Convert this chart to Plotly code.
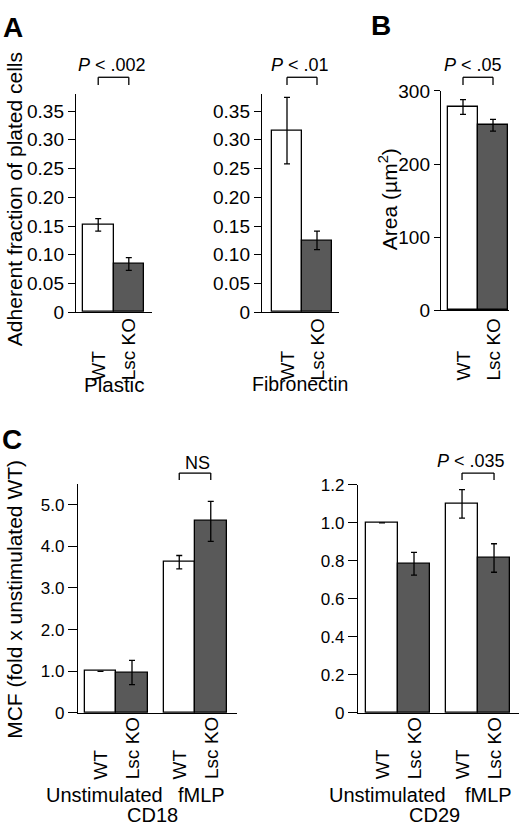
import plotly.graph_objects as go

# ---------------- data ----------------
conditions = ["WT", "Lsc KO"]
plastic_vals = [0.152, 0.084]
plastic_err = [0.011, 0.011]
fibro_vals = [0.316, 0.125]
fibro_err = [0.058, 0.016]
area_vals = [278, 253]
area_err = [10, 8]

c_conditions = ["WT", "Lsc KO", "WT", "Lsc KO"]
c_groups = ["Unstimulated", "fMLP"]
cd18_vals = [1.0, 0.97, 3.62, 4.60]
cd18_err = [0, 0.29, 0.16, 0.48]
cd29_vals = [1.0, 0.785, 1.10, 0.815]
cd29_err = [0, 0.06, 0.075, 0.075]

a_ticks = [0, 0.05, 0.10, 0.15, 0.20, 0.25, 0.30, 0.35]
a_ticktext = ["0", "0.05", "0.10", "0.15", "0.20", "0.25", "0.30", "0.35"]
b_ticks = [0, 100, 200, 300]
b_ticktext = ["0", "100", "200", "300"]
cd18_ticks = [0, 1, 2, 3, 4, 5]
cd18_ticktext = ["0", "1.0", "2.0", "3.0", "4.0", "5.0"]
cd29_ticks = [0, 0.2, 0.4, 0.6, 0.8, 1.0, 1.2]
cd29_ticktext = ["0", "0.2", "0.4", "0.6", "0.8", "1.0", "1.2"]

# ---------------- layout helpers ----------------
W, H = 520, 839
FONT = "Liberation Sans, Arial, Helvetica, sans-serif"
WT_COLOR = "white"
KO_COLOR = "#595959"


def fx(p):
    return p / W


def fy(p):
    return 1 - p / H


def positions(n):
    # two bars per group, groups separated by half a bar
    return [i + 0.5 * (i // 2) for i in range(n)]


fig = go.Figure()

panels = [
    dict(vals=plastic_vals, err=plastic_err, labels=conditions, ticks=a_ticks, tt=a_ticktext,
         xd=(76, 152), xr=(-0.726, 1.758), yd=(86, 310), yr=(0, 0.38), tf=19, tl=7, lab_bottom=382),
    dict(vals=fibro_vals, err=fibro_err, labels=conditions, ticks=a_ticks, tt=a_ticktext,
         xd=(262, 339), xr=(-0.833, 1.733), yd=(86, 310), yr=(0, 0.38), tf=19, tl=7, lab_bottom=382),
    dict(vals=area_vals, err=area_err, labels=conditions, ticks=b_ticks, tt=b_ticktext,
         xd=(441, 509), xr=(-0.733, 1.533), yd=(83, 308), yr=(0, 300), tf=19, tl=6, lab_bottom=382),
    dict(vals=cd18_vals, err=cd18_err, labels=c_conditions, ticks=cd18_ticks, tt=cd18_ticktext,
         xd=(78, 237), xr=(-0.714, 4.333), yd=(486, 721), yr=(0, 5.5), tf=17, tl=9, lab_bottom=791),
    dict(vals=cd29_vals, err=cd29_err, labels=c_conditions, ticks=cd29_ticks, tt=cd29_ticktext,
         xd=(358, 519), xr=(-0.75, 4.28), yd=(487, 721), yr=(0, 1.2), tf=17, tl=9, lab_bottom=791),
]

annotations = []
shapes = []
layout_axes = {}

for k, p in enumerate(panels, start=1):
    xa = "x" if k == 1 else f"x{k}"
    ya = "y" if k == 1 else f"y{k}"
    n = len(p["vals"])
    xs = positions(n)
    colors = [WT_COLOR if lab == "WT" else KO_COLOR for lab in p["labels"]]
    err_plot = [e if e else None for e in p["err"]]
    fig.add_trace(go.Bar(
        x=xs, y=p["vals"], width=[1] * n,
        marker=dict(color=colors, line=dict(color="black", width=1.3)),
        error_y=dict(type="data", array=err_plot, thickness=1.3, width=3, color="black"),
        xaxis=xa, yaxis=ya, showlegend=False, hoverinfo="skip",
    ))
    xkey = "xaxis" if k == 1 else f"xaxis{k}"
    ykey = "yaxis" if k == 1 else f"yaxis{k}"
    layout_axes[xkey] = dict(
        domain=[fx(p["xd"][0]), fx(p["xd"][1])], range=list(p["xr"]),
        anchor=ya, showline=True, linecolor="black", linewidth=1.4,
        showticklabels=False, ticks="", showgrid=False, zeroline=False, fixedrange=True,
    )
    layout_axes[ykey] = dict(
        domain=[fy(p["yd"][1]), fy(p["yd"][0])], range=list(p["yr"]),
        anchor=xa, showline=True, linecolor="black", linewidth=1.4,
        tickmode="array", tickvals=p["ticks"], ticktext=p["tt"],
        ticks="outside", ticklen=p["tl"], tickwidth=1.3, tickcolor="black",
        tickfont=dict(family=FONT, size=p["tf"], color="black"),
        showgrid=False, zeroline=False, fixedrange=True,
    )
    for xv, lab in zip(xs, p["labels"]):
        annotations.append(dict(
            x=xv, xref=xa, y=fy(p["lab_bottom"]), yref="paper",
            text=lab, textangle=-90, showarrow=False,
            xanchor="center", yanchor="bottom",
            font=dict(family=FONT, size=19, color="black"),
        ))


def bracket(xa, x0, x1, ytop, ybot):
    for (a, b, c, d) in [(x0, ytop, x1, ytop), (x0, ytop, x0, ybot), (x1, ytop, x1, ybot)]:
        shapes.append(dict(type="line", xref=xa, yref="paper",
                           x0=a, x1=c, y0=fy(b), y1=fy(d),
                           line=dict(color="black", width=1.3)))


def text(xp, yp, s, size=19, xanchor="center", angle=0):
    annotations.append(dict(
        x=fx(xp), y=fy(yp), xref="paper", yref="paper", text=s,
        showarrow=False, xanchor=xanchor, yanchor="middle", textangle=angle,
        font=dict(family=FONT, size=size, color="black"),
    ))


# significance brackets
bracket("x", 0, 1, 69, 77)
bracket("x2", 0, 1, 69, 77)
bracket("x3", 0, 1, 69, 77)
pos4 = positions(4)
bracket("x4", pos4[2], pos4[3], 475, 482)
bracket("x5", pos4[2], pos4[3], 475, 482)

text(112, 56, "<i>P</i> &lt; .002", 18)
text(300, 56, "<i>P</i> &lt; .01", 18)
text(473, 56, "<i>P</i> &lt; .05", 18)
text(197, 465, "NS", 18)
text(471, 463, "<i>P</i> &lt; .035", 18)

# panel letters
text(1, 18, "<b>A</b>", 28, xanchor="left")
text(369, 16, "<b>B</b>", 28, xanchor="left")
text(0, 441, "<b>C</b>", 28, xanchor="left")

# axis titles
text(14, 194, "Adherent fraction of plated cells", 21, angle=-90)
text(388, 194, "Area (µm<sup>2</sup>)", 21, angle=-90)
text(15, 605, "MCF (fold x unstimulated WT)", 21, angle=-90)

# group labels
text(114, 384, "Plastic", 20.5)
text(300, 384, "Fibronectin", 19.5)
text(104, 805, c_groups[0], 20)
text(201, 805, c_groups[1], 20)
text(152, 826, "CD18", 20)
text(387, 805, c_groups[0], 20)
text(488, 805, c_groups[1], 20)
text(434, 826, "CD29", 20)

fig.update_layout(
    width=W, height=H, autosize=False,
    margin=dict(l=0, r=0, t=0, b=0),
    paper_bgcolor="white", plot_bgcolor="white",
    bargap=0, showlegend=False,
    annotations=annotations, shapes=shapes,
    font=dict(family=FONT, color="black"),
    **layout_axes,
)

fig.write_html("out.html", config={"displayModeBar": False},
               post_script="document.body.style.margin='0';document.body.style.overflow='hidden';")
